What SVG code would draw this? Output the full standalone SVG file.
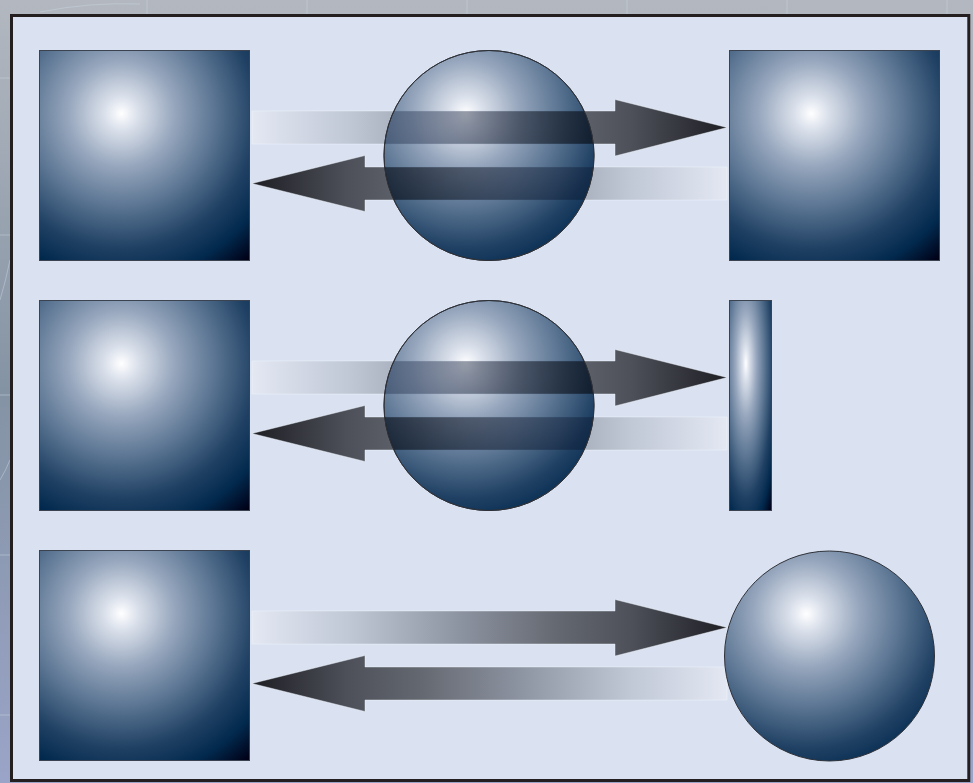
<svg xmlns="http://www.w3.org/2000/svg" width="973" height="783" viewBox="0 0 973 783">
  <defs>
    <radialGradient id="glow" cx="0.39" cy="0.3" fx="0.39" fy="0.3" r="0.92">
      <stop offset="0" stop-color="#ffffff"/>
      <stop offset="0.07" stop-color="#e1e6ef"/>
      <stop offset="0.28" stop-color="#95a5bc"/>
      <stop offset="0.5" stop-color="#56718f"/>
      <stop offset="0.7" stop-color="#1f4063"/>
      <stop offset="0.85" stop-color="#022a4e"/>
      <stop offset="1" stop-color="#000016"/>
    </radialGradient>
    <linearGradient id="gRight" gradientUnits="userSpaceOnUse" x1="252" y1="0" x2="727" y2="0">
      <stop offset="0" stop-color="#e3e8f3"/>
      <stop offset="0.2" stop-color="#c1c8d6"/>
      <stop offset="0.42" stop-color="#9097a5"/>
      <stop offset="0.65" stop-color="#63676f"/>
      <stop offset="0.8" stop-color="#4d5059"/>
      <stop offset="1" stop-color="#1e1e24"/>
    </linearGradient>
    <linearGradient id="gLeft" gradientUnits="userSpaceOnUse" x1="727" y1="0" x2="252" y2="0">
      <stop offset="0" stop-color="#e3e8f3"/>
      <stop offset="0.2" stop-color="#c1c8d6"/>
      <stop offset="0.42" stop-color="#9097a5"/>
      <stop offset="0.65" stop-color="#63676f"/>
      <stop offset="0.8" stop-color="#4d5059"/>
      <stop offset="1" stop-color="#1e1e24"/>
    </linearGradient>
    <linearGradient id="bgGrad" x1="0" y1="0" x2="0" y2="1">
      <stop offset="0" stop-color="#b3b8c0"/>
      <stop offset="0.5" stop-color="#8493a4"/>
      <stop offset="1" stop-color="#9aa4c8"/>
    </linearGradient>
    <clipPath id="c1"><circle cx="489" cy="155.5" r="105"/></clipPath>
    <clipPath id="c2"><circle cx="489" cy="405.5" r="105"/></clipPath>
    <path id="arrowR" d="M252,111 H615 V99.5 L727,127.5 L615,156 V144 H252 Z"/>
    <path id="arrowL" d="M727,167 H365 V155.5 L252,183.5 L365,211.5 V200 H727 Z"/>
  </defs>
  <style>
    .node { fill: url(#glow); stroke: #3b4250; stroke-width: 1; }
    .ball { fill: url(#glow); stroke: #2e3138; stroke-width: 1; }
    .ar { fill: url(#gRight); stroke: #f2f5fb; stroke-width: 0.8; stroke-opacity: 0.55; }
    .al { fill: url(#gLeft); stroke: #f2f5fb; stroke-width: 0.8; stroke-opacity: 0.55; }
    .blend { mix-blend-mode: multiply; opacity: 0.9; }
    .grid { stroke: #c9d3df; stroke-width: 1; opacity: 0.5; fill: none; }
  </style>

  <rect x="0" y="0" width="973" height="783" fill="url(#bgGrad)"/>
  <g class="grid">
    <line x1="147" y1="0" x2="147" y2="14"/>
    <line x1="307" y1="0" x2="307" y2="14"/>
    <line x1="467" y1="0" x2="467" y2="14"/>
    <line x1="627" y1="0" x2="627" y2="14"/>
    <line x1="787" y1="0" x2="787" y2="14"/>
    <line x1="947" y1="0" x2="947" y2="14"/>
    <line x1="0" y1="78" x2="10" y2="78"/>
    <line x1="0" y1="235" x2="10" y2="235"/>
    <line x1="0" y1="395" x2="10" y2="395"/>
    <line x1="0" y1="555" x2="10" y2="555"/>
    <line x1="0" y1="715" x2="10" y2="715"/>
    <path d="M40,12 Q90,2 140,4"/>
    <path d="M0,300 Q6,280 10,260"/>
    <path d="M0,480 Q6,470 10,460"/>
  </g>

  <rect id="panel" x="11.5" y="15.5" width="957.3" height="765" fill="#dae2f2" stroke="#231f20" stroke-width="3"/>

  <g id="connectors">
    <use href="#arrowR" class="ar"/>
    <use href="#arrowL" class="al"/>
    <use href="#arrowR" class="ar" y="250"/>
    <use href="#arrowL" class="al" y="250"/>
    <use href="#arrowR" class="ar" y="500"/>
    <use href="#arrowL" class="al" y="500"/>
  </g>

  <g id="row1-left"><rect class="node" x="39.5" y="50.5" width="210" height="210"/></g>
  <g id="row1-mid">
    <circle class="ball" cx="489" cy="155.5" r="105"/>
    <g clip-path="url(#c1)" class="blend">
      <use href="#arrowR" class="ar"/>
      <use href="#arrowL" class="al"/>
    </g>
    <circle cx="489" cy="155.5" r="105" fill="none" stroke="#2e3138" stroke-width="1"/>
  </g>
  <g id="row1-right"><rect class="node" x="729.5" y="50.5" width="210" height="210"/></g>

  <g id="row2-left"><rect class="node" x="39.5" y="300.5" width="210" height="210"/></g>
  <g id="row2-mid">
    <circle class="ball" cx="489" cy="405.5" r="105"/>
    <g clip-path="url(#c2)" class="blend">
      <use href="#arrowR" class="ar" y="250"/>
      <use href="#arrowL" class="al" y="250"/>
    </g>
    <circle cx="489" cy="405.5" r="105" fill="none" stroke="#2e3138" stroke-width="1"/>
  </g>
  <g id="row2-right"><rect class="node" x="729.5" y="300.5" width="42" height="210"/></g>

  <g id="row3-left"><rect class="node" x="39.5" y="550.5" width="210" height="210"/></g>
  <g id="row3-right"><circle class="ball" cx="829.5" cy="656" r="105"/></g>
</svg>
